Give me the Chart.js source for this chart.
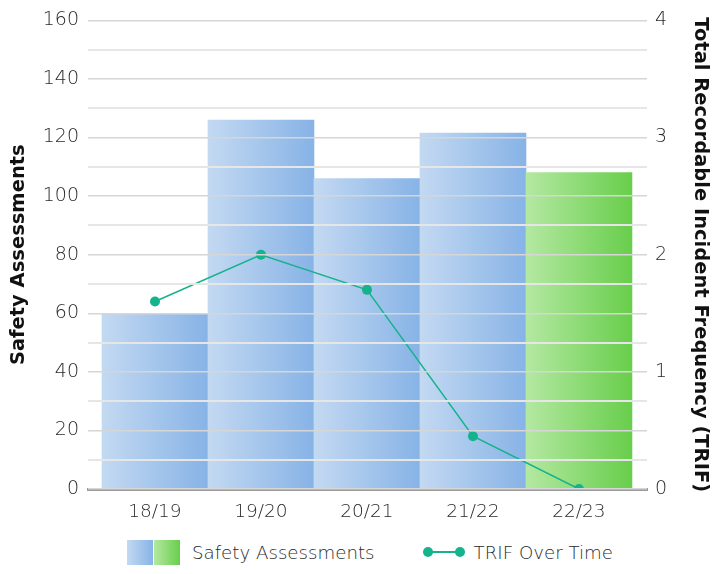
<!DOCTYPE html>
<html>
<head>
<meta charset="utf-8">
<title>Safety Assessments and TRIF</title>
<script src="https://cdn.jsdelivr.net/npm/chart.js@4.4.1/dist/chart.umd.min.js"></script>
<style>
  html, body { margin: 0; padding: 0; background: #fff; }
  #wrap { width: 713px; height: 574px; overflow: hidden; font-family: "DejaVu Sans", sans-serif; }
  #plot { position: relative; width: 713px; height: 530px; }
  .legend { display: flex; align-items: center; height: 44px; padding-left: 127px; color: #2a2a2a; font-size: 18.2px; font-weight: 200; }
  .legend .swatch { display: flex; gap: 1px; margin-right: 12px; }
  .legend .swatch span { width: 26px; height: 25px; }
  .legend .blue { background: linear-gradient(to right, #c3d9f2, #87b3e6); }
  .legend .green { background: linear-gradient(to right, #b4e8a2, #68ce4b); }
  .legend .trend { position: relative; width: 42px; height: 12px; margin-left: 48px; margin-right: 9px; }
  .legend .trend::before { content: ""; position: absolute; left: 5px; right: 5px; top: 5px; height: 2px; background: #14b38c; }
  .legend .trend i { position: absolute; top: 1px; width: 10px; height: 10px; border-radius: 50%; background: #14b38c; }
</style>
</head>
<body>
<div id="wrap">
  <div id="plot"><canvas id="assessmentChart"></canvas></div>
  <div class="legend">
    <div class="swatch"><span class="blue"></span><span class="green"></span></div>
    <span>Safety Assessments</span>
    <div class="trend"><i style="left:0"></i><i style="right:0"></i></div>
    <span>TRIF Over Time</span>
  </div>
</div>
<script>
// financial years on the x axis
const years = ['18/19', '19/20', '20/21', '21/22', '22/23'];
// number of safety assessments per year (left axis)
const assessments = [60, 126, 106, 121.5, 108];
// total recordable incident frequency per year (right axis)
const trif = [1.6, 2.0, 1.7, 0.45, 0];
// left axis labels every 20, grid every 10
const assessmentTicks = [0, 20, 40, 60, 80, 100, 120, 140, 160];
const currentYear = '22/23';

const BLUE = ['#c3d9f2', '#87b3e6'];
const GREEN = ['#b4e8a2', '#68ce4b'];
const TEAL = '#14b38c';
const FONT = '"DejaVu Sans", sans-serif';

// horizontal light-to-dark fill across each bar
function barFill(ctx) {
  const stops = years[ctx.dataIndex] === currentYear ? GREEN : BLUE;
  const x = ctx.chart.scales.x;
  if (ctx.type !== 'data' || !x) return stops[1];
  const c = x.getPixelForValue(ctx.dataIndex);
  const half = Math.abs(x.getPixelForValue(1) - x.getPixelForValue(0)) / 2;
  if (!isFinite(c) || !half) return stops[1];
  const g = ctx.chart.ctx.createLinearGradient(c - half, 0, c + half, 0);
  g.addColorStop(0, stops[0]);
  g.addColorStop(1, stops[1]);
  return g;
}

new Chart(document.getElementById('assessmentChart'), {
  data: {
    datasets: [
      {
        type: 'line',
        label: 'TRIF Over Time',
        data: trif.map((v, i) => ({ x: i, y: v })),
        yAxisID: 'y1',
        borderColor: TEAL,
        backgroundColor: TEAL,
        borderWidth: 1.5,
        pointRadius: 5,
        pointBorderWidth: 0,
        tension: 0,
        order: 0
      },
      {
        type: 'bar',
        label: 'Safety Assessments',
        data: assessments.map((v, i) => ({ x: i, y: v })),
        yAxisID: 'y',
        backgroundColor: barFill,
        barPercentage: 1,
        categoryPercentage: 1,
        borderWidth: 0,
        order: 1
      }
    ]
  },
  options: {
    responsive: true,
    maintainAspectRatio: false,
    animation: false,
    layout: { padding: { top: 19, left: 0, right: 0, bottom: 0 } },
    plugins: { legend: { display: false }, tooltip: { enabled: false } },
    scales: {
      x: {
        type: 'linear',
        offset: false,
        min: -0.632,
        max: 4.642,
        afterBuildTicks: s => { s.ticks = years.map((_, i) => ({ value: i })); },
        afterFit: s => { s.height = 41; },
        grid: { display: false, drawTicks: false },
        border: { display: true, color: '#9a9a9a', width: 3, z: 1 },
        ticks: {
          padding: 12,
          color: '#2a2a2a',
          font: { family: FONT, size: 18.5, weight: 200 },
          callback: v => years[v]
        }
      },
      y: {
        position: 'left',
        min: 0,
        max: assessmentTicks[assessmentTicks.length - 1],
        afterFit: s => { s.width = 88; },
        ticks: {
          stepSize: 10,
          padding: 9,
          color: '#2a2a2a',
          font: { family: FONT, size: 19, weight: 200 },
          callback: v => assessmentTicks.includes(v) ? v : ''
        },
        grid: {
          z: 1,
          drawTicks: false,
          color: c => (c.tick && c.tick.value % 20 === 0) ? '#d6d6d6' : '#e6e6e6',
          lineWidth: c => (c.tick && c.tick.value % 20 === 0) ? 1.5 : 2
        },
        border: { display: false },
        title: {
          display: true,
          text: 'Safety Assessments',
          color: '#111',
          padding: { top: 7, bottom: 0 },
          font: { family: FONT, size: 19.5, weight: 'bold' }
        }
      },
      y1: {
        position: 'right',
        min: 0,
        max: 4,
        afterFit: s => { s.width = 66; },
        ticks: {
          stepSize: 1,
          padding: 8,
          color: '#2a2a2a',
          font: { family: FONT, size: 19, weight: 200 }
        },
        grid: { display: false, drawTicks: false },
        border: { display: false },
        title: {
          display: true,
          text: 'Total Recordable Incident Frequency (TRIF)',
          color: '#111',
          padding: { top: 1, bottom: 0 },
          font: { family: FONT, size: 19.5, weight: 'bold' }
        }
      }
    }
  }
});
</script>
</body>
</html>
